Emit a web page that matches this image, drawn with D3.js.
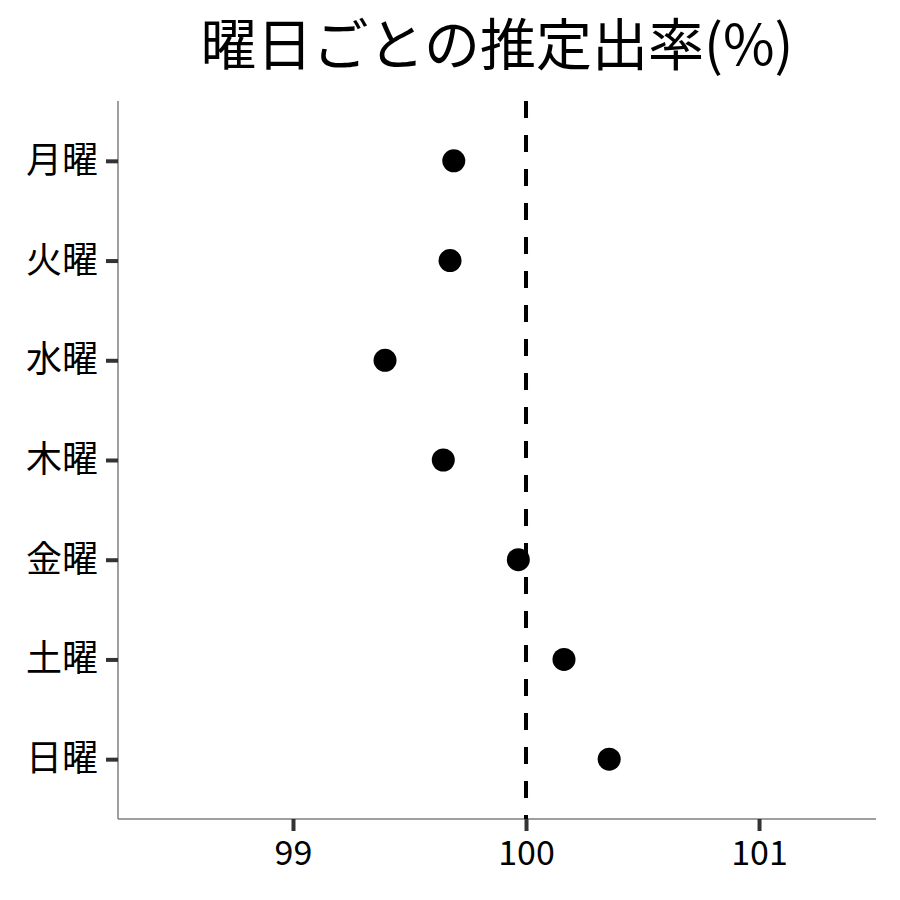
<!DOCTYPE html>
<html>
<head>
<meta charset="utf-8">
<script src="https://cdn.jsdelivr.net/npm/d3@7"></script>
<style>
  body { margin: 0; background: #fff; }
  svg text { font-family: "Noto Sans CJK JP", "Noto Sans", sans-serif; }
</style>
</head>
<body>
<svg id="chart" width="900" height="900"></svg>
<script>
// days of week, top to bottom
var days = ['月曜', '火曜', '水曜', '木曜', '金曜', '土曜', '日曜'];
// estimated ratio (%) per day
var ratios = [99.69, 99.674, 99.395, 99.645, 99.967, 100.163, 100.357];
var xTicks = [99, 100, 101];
var refValue = 100;
var titleText = '曜日ごとの推定出率(%)';

var svg = d3.select('#chart');

var margin = {left: 118, right: 24, top: 101, bottom: 81},
    width = 900 - margin.left - margin.right,
    height = 900 - margin.top - margin.bottom;

var x = d3.scaleLinear()
    .domain([98.249, 101.502])
    .range([margin.left, margin.left + width]);

// discrete scale with ggplot-like expansion
var y = d3.scalePoint()
    .domain(days)
    .range([margin.top, margin.top + height])
    .padding(0.6);

// title, centred over the panel
svg.append('text')
    .attr('x', margin.left + width / 2)
    .attr('y', 65)
    .attr('text-anchor', 'middle')
    .attr('font-size', 56)
    .attr('fill', '#000')
    .text(titleText);

// axes
var xAxis = svg.append('g')
    .attr('transform', 'translate(0,' + (margin.top + height) + ')')
    .call(d3.axisBottom(x).tickValues(xTicks).tickSize(12).tickPadding(10).tickFormat(d3.format('d')));

var yAxis = svg.append('g')
    .attr('transform', 'translate(' + margin.left + ',0)')
    .call(d3.axisLeft(y).tickSize(12).tickPadding(8));

[xAxis, yAxis].forEach(function(g) {
    g.select('.domain')
        .attr('stroke', '#7f7f7f')
        .attr('stroke-width', 1.5)
        .attr('d', g === xAxis
            ? 'M' + margin.left + ',0H' + (margin.left + width)
            : 'M0,' + margin.top + 'V' + (margin.top + height));
    g.selectAll('.tick line')
        .attr('stroke', '#333')
        .attr('stroke-width', 4);
    g.selectAll('.tick text')
        .attr('fill', '#000')
        .attr('font-family', '"Noto Sans CJK JP", sans-serif');
});
xAxis.selectAll('.tick text').attr('font-size', 34);
yAxis.selectAll('.tick text').attr('font-size', 36);

// reference line at 100
svg.append('line')
    .attr('x1', x(refValue))
    .attr('x2', x(refValue))
    .attr('y1', margin.top)
    .attr('y2', margin.top + height)
    .attr('stroke', '#000')
    .attr('stroke-width', 4)
    .attr('stroke-dasharray', '17,17');

// points
svg.selectAll('.pt')
    .data(days)
    .enter().append('circle')
    .attr('class', 'pt')
    .attr('cx', function(d, i) { return x(ratios[i]); })
    .attr('cy', function(d) { return y(d); })
    .attr('r', 11.5)
    .attr('fill', '#000');
</script>
</body>
</html>
